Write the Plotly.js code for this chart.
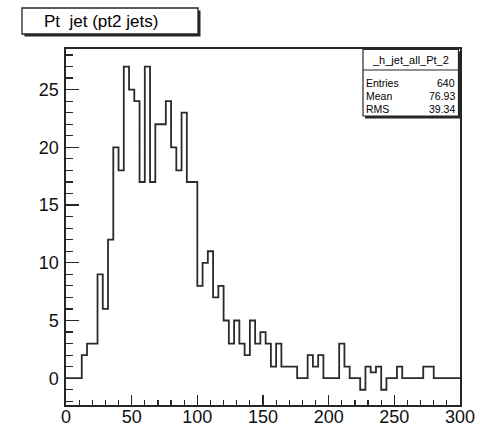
<!DOCTYPE html>
<html>
<head>
<meta charset="utf-8">
<script src="https://cdn.plot.ly/plotly-3.0.1.min.js"></script>
<style>
  html, body { margin: 0; padding: 0; background: #ffffff; }
  #chart { width: 480px; height: 429px; }
</style>
</head>
<body>
<div id="chart"></div>
<script>
// ---- data (ROOT histogram, 75 bins of width 4 on [0,300]) ----
const binLow = 0;
const binWidth = 4;
const binContents = [
  0, 0, 0, 2, 3, 3, 9, 6, 12, 20,
  18, 27, 25, 24, 17, 27, 17, 22, 22, 24,
  20, 18, 23, 17, 17, 8, 10, 11, 7, 8,
  5, 3, 5, 3, 2, 5, 3, 4, 3, 1,
  3, 1, 1, 1, 0, 0, 2, 1, 2, 0,
  0, 0, 3, 1, 0, 0, -1, 1, 0.5, 1,
  -1, 0, 0, 1, 0, 0, 0, 0, 1, 1,
  0, 0, 0, 0, 0
];
const xTickVals = [0, 50, 100, 150, 200, 250, 300];
const xTickText = ['0', '50', '100', '150', '200', '250', '300'];
const yTickVals = [0, 5, 10, 15, 20, 25];
const yTickText = ['0', '5', '10', '15', '20', '25'];
const histTitle = 'Pt\u00a0 jet (pt2 jets)';
const statsName = '_h_jet_all_Pt_2';
const statsLabels = ['Entries', 'Mean', 'RMS'];
const statsValues = ['640', '76.93', '39.34'];

// ---- build step outline from bin edges ----
const edges = [];
const stepY = [];
for (let i = 0; i < binContents.length; i++) {
  edges.push(binLow + i * binWidth);
  stepY.push(binContents[i]);
}
edges.push(binLow + binContents.length * binWidth);
stepY.push(binContents[binContents.length - 1]);

// ---- layout geometry (pixels -> paper) ----
const W = 480, H = 429;
const M = { l: 66, r: 20, t: 49, b: 24 };
const PW = W - M.l - M.r, PH = H - M.t - M.b;
const px = v => (v - M.l) / PW;
const py = v => (H - M.b - v) / PH;
const ink = '#262626';

function rect(x0, y0, x1, y1, fill, lineColor, lw) {
  return { type: 'rect', xref: 'paper', yref: 'paper', layer: 'above',
    x0: px(x0), x1: px(x1), y0: py(y0), y1: py(y1),
    fillcolor: fill, line: { color: lineColor, width: lw } };
}

const shapes = [
  rect(24.5, 10.5, 200.5, 36.5, ink, ink, 0),
  rect(22, 8, 198, 34, '#ffffff', ink, 1.3),
  rect(365, 51.5, 460.5, 118.5, ink, ink, 0),
  rect(363, 49.5, 458.5, 116, '#ffffff', ink, 1.2),
  { type: 'line', xref: 'paper', yref: 'paper', layer: 'above',
    x0: px(363), x1: px(458.5), y0: py(70), y1: py(70), line: { color: ink, width: 1.2 } }
];

const statFont = { family: 'Liberation Sans, Arial, sans-serif', size: 10.5, color: '#000' };
const annotations = [
  { xref: 'paper', yref: 'paper', x: px(101), y: py(21.5), xanchor: 'center', yanchor: 'middle',
    text: histTitle, showarrow: false,
    font: { family: 'Liberation Sans, Arial, sans-serif', size: 17, color: '#000' } },
  { xref: 'paper', yref: 'paper', x: px(410.5), y: py(60), xanchor: 'center', yanchor: 'middle',
    text: statsName, showarrow: false,
    font: { family: 'Liberation Sans, Arial, sans-serif', size: 11, color: '#000' } }
];
const rowY = [82.5, 95.5, 108.5];
for (let i = 0; i < statsLabels.length; i++) {
  annotations.push({ xref: 'paper', yref: 'paper', x: px(364), y: py(rowY[i]),
    xanchor: 'left', yanchor: 'middle', text: statsLabels[i], showarrow: false, font: statFont });
  annotations.push({ xref: 'paper', yref: 'paper', x: px(457), y: py(rowY[i]),
    xanchor: 'right', yanchor: 'middle', text: statsValues[i], showarrow: false, font: statFont });
}

const tickFont = { family: 'Liberation Sans, Arial, sans-serif', size: 18, color: '#111' };

const trace = {
  type: 'scatter', mode: 'lines', x: edges, y: stepY,
  line: { shape: 'hv', color: '#2a2a2a', width: 1.8 },
  hoverinfo: 'skip', showlegend: false
};

const layout = {
  width: W, height: H,
  margin: M,
  paper_bgcolor: '#ffffff', plot_bgcolor: '#ffffff',
  showlegend: false,
  xaxis: {
    range: [0, 300], autorange: false,
    tickmode: 'array', tickvals: xTickVals, ticktext: xTickText,
    ticks: 'inside', ticklen: 10, tickwidth: 1.3, tickcolor: ink,
    minor: { tickmode: 'linear', tick0: 0, dtick: 10, ticks: 'inside', ticklen: 5, tickwidth: 1.2, tickcolor: ink, showgrid: false },
    showgrid: false, zeroline: false,
    showline: true, mirror: true, linecolor: ink, linewidth: 1.6,
    tickfont: tickFont, automargin: false, ticklabelstandoff: -5
  },
  yaxis: {
    range: [-2.32, 28.52], autorange: false,
    tickmode: 'array', tickvals: yTickVals, ticktext: yTickText,
    ticks: 'inside', ticklen: 13, tickwidth: 1.3, tickcolor: ink,
    minor: { tickmode: 'linear', tick0: 0, dtick: 1, ticks: 'inside', ticklen: 6.5, tickwidth: 1.2, tickcolor: ink, showgrid: false },
    showgrid: false, zeroline: false,
    showline: true, mirror: true, linecolor: ink, linewidth: 1.6,
    tickfont: tickFont, automargin: false, ticklabelstandoff: 2
  },
  shapes: shapes,
  annotations: annotations
};

Plotly.newPlot('chart', [trace], layout, { staticPlot: true, displayModeBar: false });
</script>
</body>
</html>
